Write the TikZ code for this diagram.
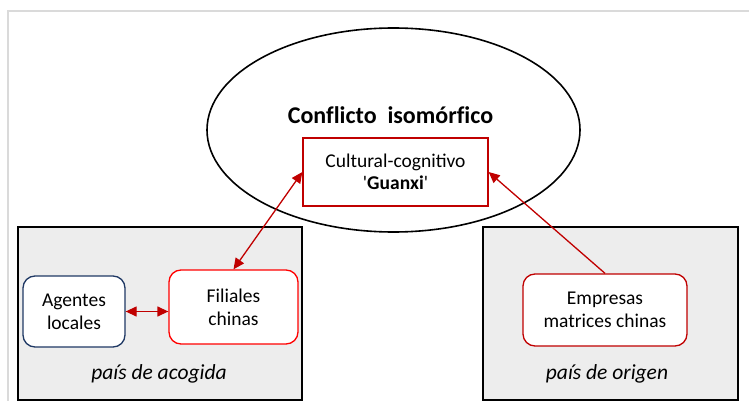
\documentclass[tikz,border=0pt]{standalone}
\usepackage{fontspec}
\setmainfont{Carlito}
\usetikzlibrary{arrows.meta,shapes.geometric}
\definecolor{boxgray}{HTML}{EDEDED}
\definecolor{darkred}{HTML}{C00000}
\definecolor{brightred}{HTML}{FF0000}
\definecolor{navy}{HTML}{1F3864}
\definecolor{framegray}{HTML}{DADADA}
\tikzset{
  container/.style={draw=black, line width=2pt, fill=boxgray, inner sep=0pt},
  roundbox/.style={draw, line width=1.3pt, fill=white, rounded corners=12pt, inner sep=0pt, align=center,
    font=\fontsize{19.5}{23}\selectfont},
  conn/.style={draw=darkred, line width=1.3pt, -{Triangle[length=11pt,width=10pt]}},
  biconn/.style={draw=darkred, line width=1.3pt, {Triangle[length=11pt,width=10pt]}-{Triangle[length=11pt,width=10pt]}},
  lbl/.style={font=\fontsize{21.5}{24}\selectfont\itshape, inner sep=0pt}
}
\begin{document}
\begin{tikzpicture}[x=1pt,y=-1pt]
\useasboundingbox (0,0) rectangle (749,401);
\draw[framegray, line width=1.2pt] (8,401) -- (8,11) -- (749,11);
% ellipse
\node (ell) [draw=black, line width=1.6pt, ellipse, minimum width=373pt, minimum height=204pt, inner sep=0pt] at (393.5,130) {};
\node (title) [font=\fontsize{24}{28}\selectfont\bfseries\addfontfeatures{Ligatures=NoCommon}, inner sep=0pt] at (390.5,115) {Conflicto\ \ isomórfico};
\node (cul) [draw=darkred, line width=1.3pt, fill=white, minimum width=185pt, minimum height=68pt, inner sep=0pt, align=center,
  font=\fontsize{19.5}{22}\selectfont] at (395.5,172) {Cultural-cognitivo\\\textquotesingle\textbf{Guanxi}\textquotesingle};
% containers
\node (left) [container, minimum width=284pt, minimum height=173pt] at (160,313.5) {};
\node (right) [container, minimum width=255pt, minimum height=173pt] at (610.5,313.5) {};
\node (ag) [roundbox, draw=navy, minimum width=102pt, minimum height=71pt] at (74,311.5) {Agentes\\locales};
\node (fil) [roundbox, draw=brightred, minimum width=129pt, minimum height=74pt] at (233.5,307) {Filiales\\chinas};
\node (emp) [roundbox, draw=darkred, minimum width=164pt, minimum height=72pt] at (605,310) {Empresas\\matrices chinas};
\node (acog) [lbl] at (159,374) {país de acogida};
\node (orig) [lbl] at (607,374) {país de origen};
% connectors
\draw[biconn] (fil.north) -- (cul.west);
\draw[conn] (emp.north) -- (cul.east);
\draw[biconn] (ag.east) -- (ag.east -| fil.west);
\end{tikzpicture}
\end{document}
